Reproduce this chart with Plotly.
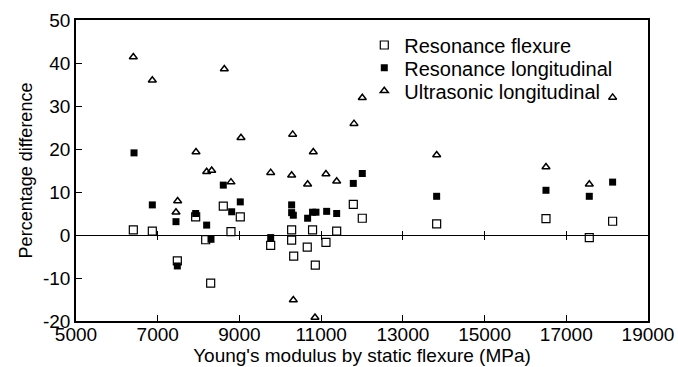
import plotly.graph_objects as go

# Resonance flexure (open squares)
flex_x = [6403, 6868, 7480, 7929, 8174, 8296, 8605, 8793, 9021, 9765, 10278, 10278,
          10328, 10660, 10790, 10857, 11118, 11380, 11787, 12007, 13827, 16503, 17563, 18134]
flex_y = [1.2, 0.9, -6.0, 4.2, -1.1, -11.2, 6.7, 0.8, 4.2, -2.4, 1.2, -1.2,
          -4.9, -2.8, 1.2, -7.0, -1.7, 0.9, 7.1, 3.9, 2.6, 3.8, -0.6, 3.2]

# Resonance longitudinal (filled squares)
long_x = [6420, 6868, 7447, 7480, 7929, 8198, 8304, 8605, 8810, 9021, 9765, 10278, 10278,
          10319, 10669, 10790, 10873, 11135, 11380, 11787, 12007, 13827, 16503, 17563, 18134]
long_y = [19.1, 7.0, 3.1, -7.2, 5.0, 2.3, -1.0, 11.6, 5.4, 7.7, -0.6, 7.0, 5.2,
          4.6, 3.9, 5.3, 5.3, 5.5, 5.0, 12.0, 14.3, 9.0, 10.4, 9.0, 12.3]

# Ultrasonic longitudinal (open triangles)
ultra_x = [6403, 6868, 7447, 7488, 7937, 8198, 8321, 8630, 8793, 9038, 9765, 10278, 10303,
           10319, 10669, 10808, 10849, 11118, 11380, 11804, 12007, 13828, 16503, 17563, 18134]
ultra_y = [41.4, 36.0, 5.3, 7.9, 19.3, 14.7, 15.0, 38.6, 12.3, 22.6, 14.5, 13.9, 23.4,
           -15.1, 11.8, 19.3, -19.2, 14.2, 12.5, 25.9, 31.9, 18.6, 15.8, 11.8, 32.0]

x_ticks = [5000, 7000, 9000, 11000, 13000, 15000, 17000, 19000]
y_ticks = [-20, -10, 0, 10, 20, 30, 40, 50]
x_range = [5000, 19000]
y_range = [-20, 50]

FONT = "Liberation Sans, Arial, Helvetica, sans-serif"

fig = go.Figure()
fig.add_trace(go.Scatter(x=flex_x, y=flex_y, mode="markers", name="Resonance flexure",
                         legend="legend",
                         marker=dict(symbol="square-open", size=8, color="black",
                                     line=dict(width=1.2, color="black"))))
fig.add_trace(go.Scatter(x=long_x, y=long_y, mode="markers", name="Resonance longitudinal",
                         legend="legend2",
                         marker=dict(symbol="square", size=7, color="black")))
fig.add_trace(go.Scatter(x=ultra_x, y=ultra_y, mode="markers", name="Ultrasonic longitudinal",
                         legend="legend3",
                         marker=dict(symbol="triangle-up-open", size=7, color="black",
                                     line=dict(width=1.5, color="black"))))
# empty traces to host the zero-line axes
fig.add_trace(go.Scatter(x=[], y=[], xaxis="x2", showlegend=False, hoverinfo="skip"))
fig.add_trace(go.Scatter(x=[], y=[], xaxis="x3", showlegend=False, hoverinfo="skip"))

zero_pos = (0 - y_range[0]) / (y_range[1] - y_range[0])

def leg(ypos):
    return dict(x=0.504, y=ypos, xanchor="left", yanchor="middle",
                bgcolor="rgba(0,0,0,0)", borderwidth=0,
                font=dict(family=FONT, size=20, color="black"))

fig.update_layout(
    width=678, height=367,
    margin=dict(l=76, r=30, t=20, b=46, autoexpand=False),
    plot_bgcolor="white", paper_bgcolor="white",
    font=dict(family=FONT, size=20, color="black"),
    showlegend=True,
    legend=leg(0.917),
    legend2=leg(0.841),
    legend3=leg(0.765),
    xaxis=dict(range=x_range, tickvals=x_ticks, ticktext=[str(v) for v in x_ticks],
               showgrid=False, zeroline=False, showline=True, linecolor="black",
               linewidth=1.5, mirror=True, ticks="inside", ticklen=6, tickcolor="black",
               tickfont=dict(size=19), ticklabelstandoff=-5, automargin=False,
               title=dict(text="Young's modulus by static flexure (MPa)",
                          font=dict(size=19), standoff=4)),
    yaxis=dict(range=y_range, tickvals=y_ticks, ticktext=[str(v) for v in y_ticks],
               showgrid=False, zeroline=False, showline=True, linecolor="black",
               linewidth=1.5, mirror=True, ticks="inside", ticklen=6, tickcolor="black",
               tickfont=dict(size=19), automargin=False,
               title=dict(text="Percentage difference", font=dict(size=18), standoff=6)),
    xaxis2=dict(range=x_range, tickvals=x_ticks[1:-1], overlaying="x", anchor="free",
                position=zero_pos, showline=True, linecolor="black", linewidth=1,
                ticks="outside", ticklen=4, tickcolor="black", showticklabels=False,
                showgrid=False, zeroline=False, automargin=False),
    xaxis3=dict(range=x_range, tickvals=x_ticks[1:-1], overlaying="x", anchor="free",
                position=zero_pos, showline=False,
                ticks="inside", ticklen=4, tickcolor="black", showticklabels=False,
                showgrid=False, zeroline=False, side="bottom", automargin=False),
)

fig.write_html("out.html")
